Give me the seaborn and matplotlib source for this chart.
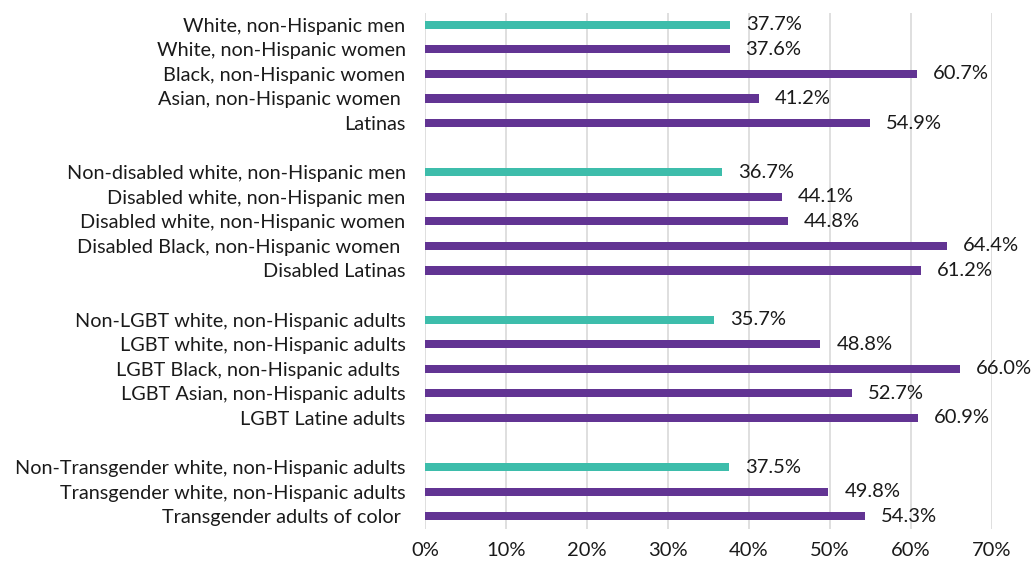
import matplotlib
matplotlib.use("Agg")
import matplotlib.pyplot as plt
import seaborn as sns
import pandas as pd
import numpy as np

# Data
group1_labels = ["White, non-Hispanic men", "White, non-Hispanic women", "Black, non-Hispanic women",
                 "Asian, non-Hispanic women ", "Latinas"]
group1_values = [37.7, 37.6, 60.7, 41.2, 54.9]
group2_labels = ["Non-disabled white, non-Hispanic men", "Disabled white, non-Hispanic men",
                 "Disabled white, non-Hispanic women", "Disabled Black, non-Hispanic women ", "Disabled Latinas"]
group2_values = [36.7, 44.1, 44.8, 64.4, 61.2]
group3_labels = ["Non-LGBT white, non-Hispanic adults", "LGBT white, non-Hispanic adults",
                 "LGBT Black, non-Hispanic adults ", "LGBT Asian, non-Hispanic adults", "LGBT Latine adults"]
group3_values = [35.7, 48.8, 66.0, 52.7, 60.9]
group4_labels = ["Non-Transgender white, non-Hispanic adults", "Transgender white, non-Hispanic adults",
                 "Transgender adults of color "]
group4_values = [37.5, 49.8, 54.3]
x_ticks = [0, 10, 20, 30, 40, 50, 60, 70]

TEAL = "#3dbdab"
PURPLE = "#623493"
FONT = ['Lato', 'DejaVu Sans']
LABEL_FS = 14.3
NUM_FS = 14.5

labels, values, kinds = [], [], []
groups = [(group1_labels, group1_values), (group2_labels, group2_values),
          (group3_labels, group3_values), (group4_labels, group4_values)]
for gi, (gl, gv) in enumerate(groups):
    for i, (l, v) in enumerate(zip(gl, gv)):
        labels.append(l)
        values.append(v)
        kinds.append("ref" if i == 0 else "cmp")
    if gi < len(groups) - 1:
        labels.append(" " * (gi + 1) + "\u200b")
        values.append(np.nan)
        kinds.append("blank")

df = pd.DataFrame({"label": labels, "value": values, "kind": kinds})

plt.rcParams['font.family'] = FONT
fig = plt.figure(figsize=(10.34, 5.63), dpi=100)
top_px, bot_px = 12.5, 528.5
ax = fig.add_axes([425/1034, 1 - bot_px/563, (992-425)/1034, (bot_px-top_px)/563])

sns.barplot(data=df, y="label", x="value", hue="kind", order=labels,
            palette={"ref": TEAL, "cmp": PURPLE, "blank": PURPLE}, saturation=1,
            width=0.33, dodge=False, legend=False, ax=ax, orient="h", errorbar=None)

ax.set_xlim(0, 70)
ax.set_ylim(len(labels) - 0.5, -0.5)
ax.set_xticks(x_ticks)
ax.set_xticklabels([f"{t}%" for t in x_ticks], fontsize=NUM_FS, color="#1a1a1a")
ax.set_yticks(range(len(labels)))
ax.set_yticklabels([l if k != "blank" else "" for l, k in zip(labels, kinds)], fontsize=LABEL_FS, color="#1a1a1a")
ax.tick_params(axis="both", length=0)
ax.tick_params(axis="y", pad=14)
ax.tick_params(axis="x", pad=10)
ax.set_xlabel("")
ax.set_ylabel("")
for s in ax.spines.values():
    s.set_visible(False)
ax.grid(axis="x", color="#d9d9d9", linewidth=1.2)
ax.set_axisbelow(True)

for i, v in enumerate(values):
    if not np.isnan(v):
        ax.annotate(f"{v:.1f}%", xy=(v, i), xytext=(16, 0), textcoords="offset pixels",
                    va="center", ha="left", fontsize=NUM_FS, color="#1a1a1a")

fig.savefig("out.png", dpi=100)
